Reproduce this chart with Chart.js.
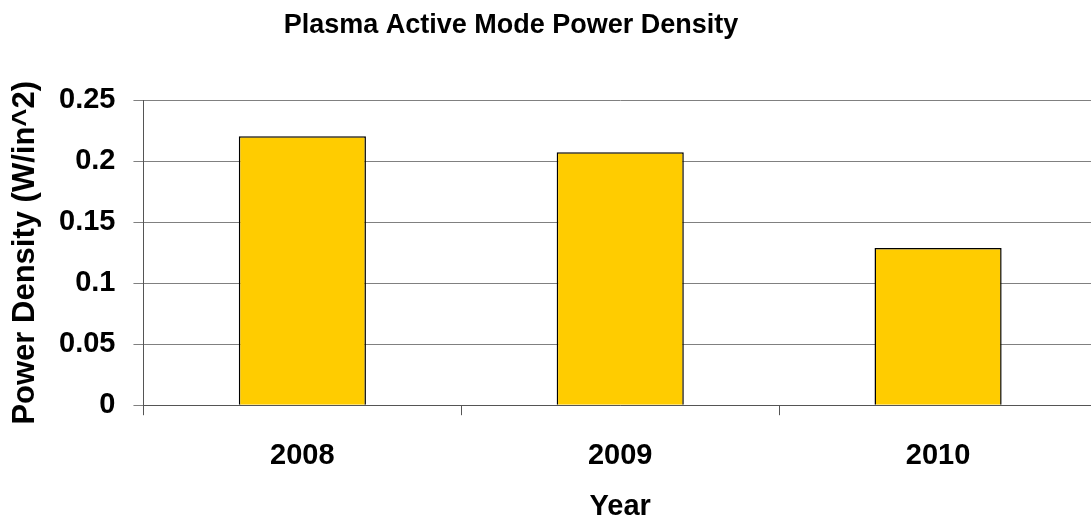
<!DOCTYPE html>
<html>
<head>
<meta charset="utf-8">
<script src="https://cdn.jsdelivr.net/npm/chart.js@4.4.0/dist/chart.umd.min.js"></script>
<style>
  html, body { margin: 0; padding: 0; background: #fff; overflow: hidden; }
  #wrap { width: 1100px; height: 520px; }
</style>
</head>
<body>
<div id="wrap"><canvas id="chart"></canvas></div>
<script>
// data
const years = ['2008', '2009', '2010'];
const powerDensity = [0.2205, 0.2075, 0.129];
const yTickLabels = ['0', '0.05', '0.1', '0.15', '0.2', '0.25'];

const fontFamily = '"Liberation Sans", Arial, sans-serif';

// the original title sits left of the plot centre, so narrow its box a bit
const titleShift = {
  id: 'titleShift',
  afterLayout(chart) {
    if (chart.titleBlock) {
      chart.titleBlock.left = 0;
      chart.titleBlock.right = 1022;
    }
  }
};

const ctx = document.getElementById('chart').getContext('2d');
new Chart(ctx, {
  type: 'bar',
  data: {
    labels: years,
    datasets: [{
      label: 'Power Density',
      data: powerDensity,
      backgroundColor: '#FFCC00',
      borderColor: '#000000',
      borderWidth: 1.5,
      barPercentage: 0.4,
      categoryPercentage: 1.0
    }]
  },
  options: {
    responsive: true,
    maintainAspectRatio: false,
    animation: false,
    layout: { padding: { left: 5, right: 3, top: 0, bottom: 0 } },
    plugins: {
      legend: { display: false },
      tooltip: { enabled: false },
      title: {
        display: true,
        text: 'Plasma Active Mode Power Density',
        color: '#000',
        font: { family: fontFamily, size: 27, weight: 'bold', lineHeight: 1.2 },
        padding: { top: 9, bottom: 59 }
      }
    },
    scales: {
      x: {
        grid: { drawOnChartArea: false, drawTicks: true, tickLength: 10, color: '#555' },
        border: { color: '#555', width: 1 },
        ticks: {
          color: '#000',
          padding: 23,
          font: { family: fontFamily, size: 29, weight: 'bold' }
        },
        title: {
          display: true,
          text: 'Year',
          color: '#000',
          font: { family: fontFamily, size: 29, weight: 'bold', lineHeight: 1 },
          padding: { top: -4, bottom: -1 }
        }
      },
      y: {
        min: 0,
        max: 0.25,
        grid: { color: '#808080', lineWidth: 1, tickLength: 10 },
        border: { color: '#555', width: 1 },
        ticks: {
          stepSize: 0.05,
          color: '#000',
          padding: 18,
          font: { family: fontFamily, size: 29, weight: 'bold' },
          callback: (v, i) => yTickLabels[i]
        },
        title: {
          display: true,
          text: 'Power Density (W/in^2)',
          color: '#000',
          font: { family: fontFamily, size: 31, weight: 'bold', lineHeight: 1 },
          padding: { top: 5, bottom: 0 }
        }
      }
    }
  },
  plugins: [titleShift]
});
</script>
</body>
</html>
